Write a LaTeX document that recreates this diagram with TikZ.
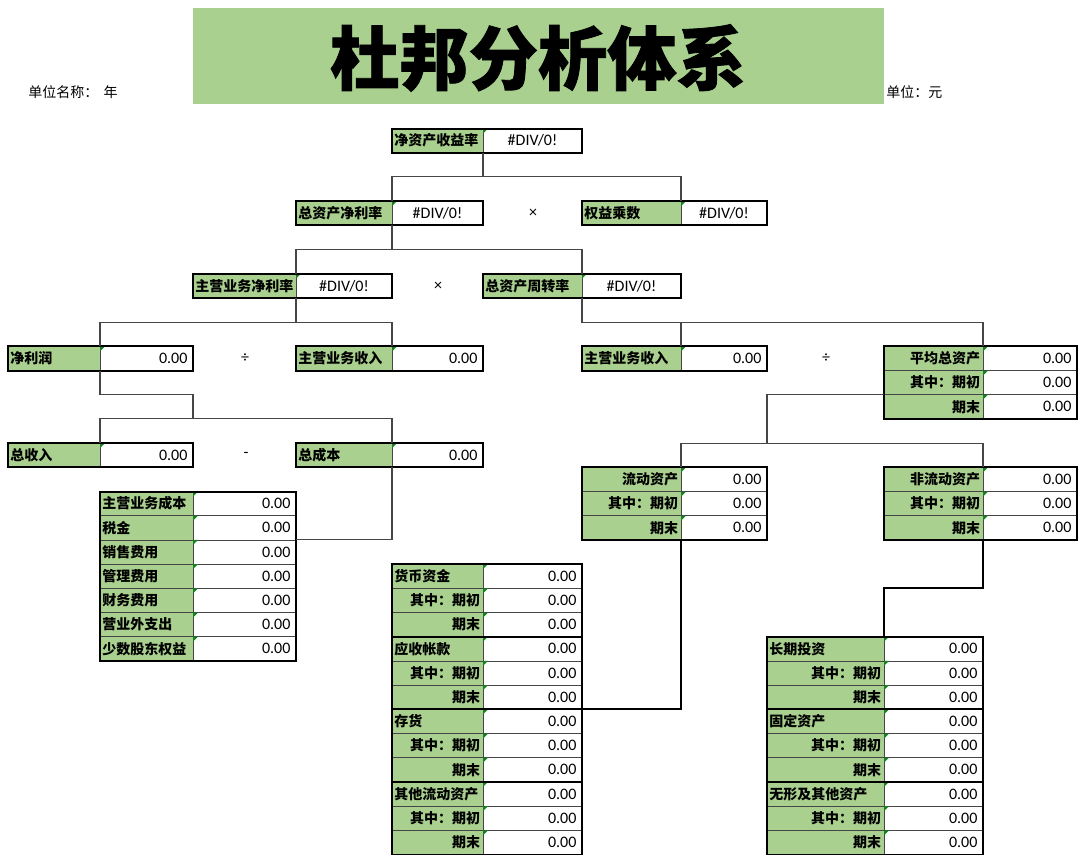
\documentclass[tikz,border=0pt]{standalone}
\usepackage{fontspec}
\setmainfont{Carlito}
\newfontfamily\cjk{Noto Sans CJK SC}
\newfontfamily\cjkheavy{Noto Sans CJK SC}[BoldFeatures={FakeBold=1.2}]
\definecolor{xlgreen}{RGB}{169,208,142}
\definecolor{cellline}{RGB}{70,70,70}
\definecolor{connc}{RGB}{70,70,70}
\definecolor{trig}{RGB}{20,130,30}
\tikzset{
  x=0.75pt, y=-0.75pt,
  cellbox/.style={draw=cellline, line width=0.6pt, inner sep=0pt, outer sep=0pt, minimum height=18.15pt, anchor=north west},
  lab/.style={cellbox, fill=xlgreen},
  val/.style={cellbox, fill=white},
  ltxt/.style={font=\cjk\bfseries\fontsize{10.5pt}{12pt}\selectfont, inner sep=0pt},
  htxt/.style={font=\cjk\fontsize{10.5pt}{12pt}\selectfont, inner sep=0pt},
  ntxt/.style={font=\fontsize{12pt}{14pt}\selectfont, inner sep=0pt},
  outerb/.style={draw=black, line width=1.5pt},
  conn/.style={draw=connc, line width=0.8pt},
  tconn/.style={draw=black, line width=1.6pt},
  tri/.style={fill=trig},
}
% label cell: name, x0, x1, row, text, align (l or r)
\newcommand{\labcell}[6]{%
  \node[lab, minimum width={(#3-#2)*0.75pt}] (#1) at (#2,{128.5+24.2*(#4)}) {};
  \if l#6\relax
    \node[ltxt, anchor=west] at ([xshift=1.5pt]#1.west) {#5};
  \else
    \node[ltxt, anchor=east] at ([xshift=-2pt]#1.east) {#5};
  \fi}
% numeric value cell: name, x0, x1, row, text
\newcommand{\valcell}[5]{%
  \node[val, minimum width={(#3-#2)*0.75pt}] (#1) at (#2,{128.5+24.2*(#4)}) {};
  \fill[tri] (#1.north west) -- ++(5,0) -- ++(-5,5) -- cycle;
  \node[ntxt, anchor=east] at ([xshift=-4pt]#1.east) {#5};}
% #DIV/0! value cell: name, x0, x1, row
\newcommand{\divcell}[4]{%
  \node[val, minimum width={(#3-#2)*0.75pt}] (#1) at (#2,{128.5+24.2*(#4)}) {};
  \fill[tri] (#1.north west) -- ++(5,0) -- ++(-5,5) -- cycle;
  \node[ntxt] at (#1.center) {\#DIV/0!};}
\begin{document}
\begin{tikzpicture}
\path[use as bounding box, fill=white] (0,0) rectangle (1080,854);

% title band
\fill[xlgreen] (193,8) rectangle (884,104);
\node[font=\cjkheavy\bfseries\fontsize{52pt}{60pt}\selectfont, inner sep=0pt] (title) at (538,58) {杜邦分析体系};
\node[htxt, anchor=west] (unitname) at (28,92) {单位名称：\hspace{4pt}年};
\node[htxt, anchor=west] (unit) at (886,92) {单位：元};

% level 0
\labcell{roeL}{392}{483}{0}{净资产收益率}{l}
\divcell{roeV}{483}{582}{0}
\draw[outerb] (roeL.north west) rectangle (roeV.south east);

% level 1
\labcell{roaL}{296}{392}{3}{总资产净利率}{l}
\divcell{roaV}{392}{483}{3}
\draw[outerb] (roaL.north west) rectangle (roaV.south east);
\labcell{emL}{582}{681}{3}{权益乘数}{l}
\divcell{emV}{681}{767}{3}
\draw[outerb] (emL.north west) rectangle (emV.south east);

% level 2
\labcell{npmL}{193}{296}{6}{主营业务净利率}{l}
\divcell{npmV}{296}{392}{6}
\draw[outerb] (npmL.north west) rectangle (npmV.south east);
\labcell{tatL}{483}{582}{6}{总资产周转率}{l}
\divcell{tatV}{582}{681}{6}
\draw[outerb] (tatL.north west) rectangle (tatV.south east);

% level 3
\labcell{npL}{8}{100}{9}{净利润}{l}
\valcell{npV}{100}{193}{9}{0.00}
\draw[outerb] (npL.north west) rectangle (npV.south east);
\labcell{revaL}{296}{392}{9}{主营业务收入}{l}
\valcell{revaV}{392}{483}{9}{0.00}
\draw[outerb] (revaL.north west) rectangle (revaV.south east);
\labcell{revbL}{582}{681}{9}{主营业务收入}{l}
\valcell{revbV}{681}{767}{9}{0.00}
\draw[outerb] (revbL.north west) rectangle (revbV.south east);
\labcell{avgLa}{884}{983}{9}{平均总资产}{r}
\valcell{avgVa}{983}{1077}{9}{0.00}
\labcell{avgLb}{884}{983}{10}{其中：期初}{r}
\valcell{avgVb}{983}{1077}{10}{0.00}
\labcell{avgLc}{884}{983}{11}{期末}{r}
\valcell{avgVc}{983}{1077}{11}{0.00}
\draw[outerb] (avgLa.north west) rectangle (avgVc.south east);

% level 4
\labcell{tiL}{8}{100}{13}{总收入}{l}
\valcell{tiV}{100}{193}{13}{0.00}
\draw[outerb] (tiL.north west) rectangle (tiV.south east);
\labcell{tcL}{296}{392}{13}{总成本}{l}
\valcell{tcV}{392}{483}{13}{0.00}
\draw[outerb] (tcL.north west) rectangle (tcV.south east);

\labcell{caLa}{582}{681}{14}{流动资产}{r}
\valcell{caVa}{681}{767}{14}{0.00}
\labcell{caLb}{582}{681}{15}{其中：期初}{r}
\valcell{caVb}{681}{767}{15}{0.00}
\labcell{caLc}{582}{681}{16}{期末}{r}
\valcell{caVc}{681}{767}{16}{0.00}
\draw[outerb] (caLa.north west) rectangle (caVc.south east);

\labcell{ncaLa}{884}{983}{14}{非流动资产}{r}
\valcell{ncaVa}{983}{1077}{14}{0.00}
\labcell{ncaLb}{884}{983}{15}{其中：期初}{r}
\valcell{ncaVb}{983}{1077}{15}{0.00}
\labcell{ncaLc}{884}{983}{16}{期末}{r}
\valcell{ncaVc}{983}{1077}{16}{0.00}
\draw[outerb] (ncaLa.north west) rectangle (ncaVc.south east);

% cost list
\foreach \t [count=\i from 0] in {主营业务成本,税金,销售费用,管理费用,财务费用,营业外支出,少数股东权益}{
  \labcell{costL\i}{100}{193}{15+\i}{\t}{l}
  \valcell{costV\i}{193}{296}{15+\i}{0.00}
}
\draw[outerb] (costL0.north west) rectangle (costV6.south east);

% current asset list
\foreach \t [count=\g from 0] in {货币资金,应收帐款,存货,其他流动资产}{
  \labcell{cal\g a}{392}{483}{18+3*\g}{\t}{l}
  \valcell{cav\g a}{483}{582}{18+3*\g}{0.00}
  \labcell{cal\g b}{392}{483}{19+3*\g}{其中：期初}{r}
  \valcell{cav\g b}{483}{582}{19+3*\g}{0.00}
  \labcell{cal\g c}{392}{483}{20+3*\g}{期末}{r}
  \valcell{cav\g c}{483}{582}{20+3*\g}{0.00}
  \draw[outerb] (cal\g a.north west) rectangle (cav\g c.south east);
}

% non-current asset list
\foreach \t [count=\g from 0] in {长期投资,固定资产,无形及其他资产}{
  \labcell{nal\g a}{767}{884}{21+3*\g}{\t}{l}
  \valcell{nav\g a}{884}{983}{21+3*\g}{0.00}
  \labcell{nal\g b}{767}{884}{22+3*\g}{其中：期初}{r}
  \valcell{nav\g b}{884}{983}{22+3*\g}{0.00}
  \labcell{nal\g c}{767}{884}{23+3*\g}{期末}{r}
  \valcell{nav\g c}{884}{983}{23+3*\g}{0.00}
  \draw[outerb] (nal\g a.north west) rectangle (nav\g c.south east);
}

% operators
\node[ntxt] (opa) at (533,213) {×};
\node[ntxt] (opb) at (438,286) {×};
\node[ntxt] (opc) at (245,358) {÷};
\node[ntxt] (opd) at (826,358) {÷};
\node[ntxt] (ope) at (246,455) {-};

% bus coordinates
\coordinate (busA) at (0,176.9);
\coordinate (busB) at (0,249.5);
\coordinate (busC) at (0,322.1);
\coordinate (busEa) at (0,394.7);
\coordinate (busEb) at (0,418.9);
\coordinate (busG) at (767,443.1);
\coordinate (busI) at (0,588.3);

% connectors
\draw[conn] (roeV.south west) -- (roeV.south west |- busA);
\draw[conn] (roaV.north west) |- (emV.north west |- busA) -- (emV.north west);

\draw[conn] (roaV.south west) -- (roaV.south west |- busB);
\draw[conn] (npmV.north west) |- (tatV.north west |- busB) -- (tatV.north west);

\draw[conn] (npmV.south west) -- (npmV.south west |- busC);
\draw[conn] (npV.north west) |- (revaV.north west |- busC) -- (revaV.north west);

\draw[conn] (tatV.south west) |- (avgVa.north west |- busC) -- (avgVa.north west);
\draw[conn] (revbV.north west) -- (revbV.north west |- busC);

\draw[conn] (npV.south west) |- (npV.south east |- busEa) -- (npV.south east |- busEb);
\draw[conn] (tiV.north west) |- (tcV.north west |- busEb) -- (tcV.north west);

\draw[conn] (tcV.south west) |- (costV1.south east);

\draw[conn] (avgLc.north west) -| (busG);
\draw[conn] (caVa.north west) |- (ncaVa.north west |- busG) -- (ncaVa.north west);

\draw[tconn] (caVc.south west) |- (cav1c.south east);
\draw[tconn] (ncaVc.south west) -- (ncaVc.south west |- busI) -| (nav0a.north west);
\end{tikzpicture}
\end{document}
